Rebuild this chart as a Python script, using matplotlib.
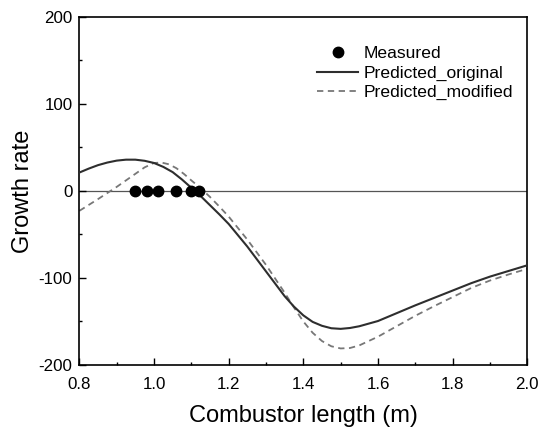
import matplotlib
matplotlib.use("Agg")
import matplotlib.pyplot as plt
from matplotlib.ticker import MultipleLocator, FormatStrFormatter

plt.rcParams['font.family'] = ['Liberation Sans', 'DejaVu Sans']

# Measured data (growth rate ~ 0 at these lengths)
measured_x = [0.95, 0.98, 1.01, 1.06, 1.10, 1.12]
measured_y = [0, 0, 0, 0, 0, 0]

# Predicted_original (solid)
orig_x = [0.80, 0.825, 0.85, 0.875, 0.90, 0.925, 0.95, 0.975, 1.00, 1.025, 1.05, 1.075,
          1.10, 1.125, 1.15, 1.175, 1.20, 1.25, 1.30, 1.35, 1.375, 1.40, 1.425, 1.45,
          1.475, 1.50, 1.525, 1.55, 1.60, 1.65, 1.70, 1.75, 1.80, 1.85, 1.90, 1.95, 2.00]
orig_y = [21, 25.5, 29.5, 32.5, 34.7, 35.8, 35.8, 34.5, 32, 27.5, 21.5, 13,
          3.5, -6, -16.5, -27, -38, -64, -92.5, -121, -133, -143, -150.5, -155,
          -157.8, -158.5, -157.5, -155.5, -149.5, -140.5, -131.5, -123, -114.5, -106, -98.5, -92, -85.5]

# Predicted_modified (dashed)
mod_x = [0.80, 0.85, 0.90, 0.95, 0.975, 1.00, 1.02, 1.04, 1.06, 1.08, 1.10, 1.125,
         1.15, 1.175, 1.20, 1.25, 1.30, 1.35, 1.375, 1.40, 1.425, 1.45, 1.475, 1.50,
         1.525, 1.55, 1.60, 1.65, 1.70, 1.75, 1.80, 1.85, 1.90, 1.95, 2.00]
mod_y = [-23, -9.5, 4.5, 19.5, 27, 32, 32.5, 30.5, 26, 19.5, 12, 3,
         -7, -18, -29.5, -56, -85, -117, -134, -150, -163, -172.5, -178.5, -181,
         -180.5, -177.5, -167.5, -155.5, -143.5, -132.5, -122, -111.5, -103, -96, -89.5]

fig = plt.figure(figsize=(5.40, 4.29), dpi=100)
ax = fig.add_axes([0.1469, 0.1492, 0.8296, 0.8119])

ax.axhline(0, color='#555555', lw=0.9, zorder=1)
ax.plot(orig_x, orig_y, color='#2e2e2e', lw=1.5, label='Predicted_original', zorder=3)
ax.plot(mod_x, mod_y, color='#777777', lw=1.3, dashes=(3.5, 2.5),
        label='Predicted_modified', zorder=2)
ax.plot(measured_x, measured_y, 'o', color='black', ms=7.5, ls='none',
        label='Measured', zorder=4)

ax.set_xlim(0.8, 2.0)
ax.set_ylim(-200, 200)
ax.xaxis.set_major_locator(MultipleLocator(0.2))
ax.xaxis.set_minor_locator(MultipleLocator(0.1))
ax.yaxis.set_major_locator(MultipleLocator(100))
ax.yaxis.set_minor_locator(MultipleLocator(50))
ax.xaxis.set_major_formatter(FormatStrFormatter('%.1f'))
ax.yaxis.set_major_formatter(FormatStrFormatter('%d'))

ax.tick_params(which='both', direction='in', top=False, right=False, labelsize=12.2)
ax.tick_params(which='major', length=4.8, width=1.0)
ax.tick_params(which='minor', length=2.4, width=1.0)
ax.tick_params(axis='y', pad=5)
ax.tick_params(axis='x', pad=9)
for s in ax.spines.values():
    s.set_linewidth(1.2)

ax.set_xlabel('Combustor length (m)', fontsize=17, labelpad=9)
ax.set_ylabel('Growth rate', fontsize=17, labelpad=3.5)

h, l = ax.get_legend_handles_labels()
order = [2, 0, 1]
ax.legend([h[i] for i in order], [l[i] for i in order], loc='upper left',
          bbox_to_anchor=(0.53, 0.916), frameon=False, fontsize=12.6,
          borderpad=0, borderaxespad=0, handlelength=2.38, handletextpad=0.27,
          labelspacing=0.24)

fig.savefig('out.png', dpi=100)
